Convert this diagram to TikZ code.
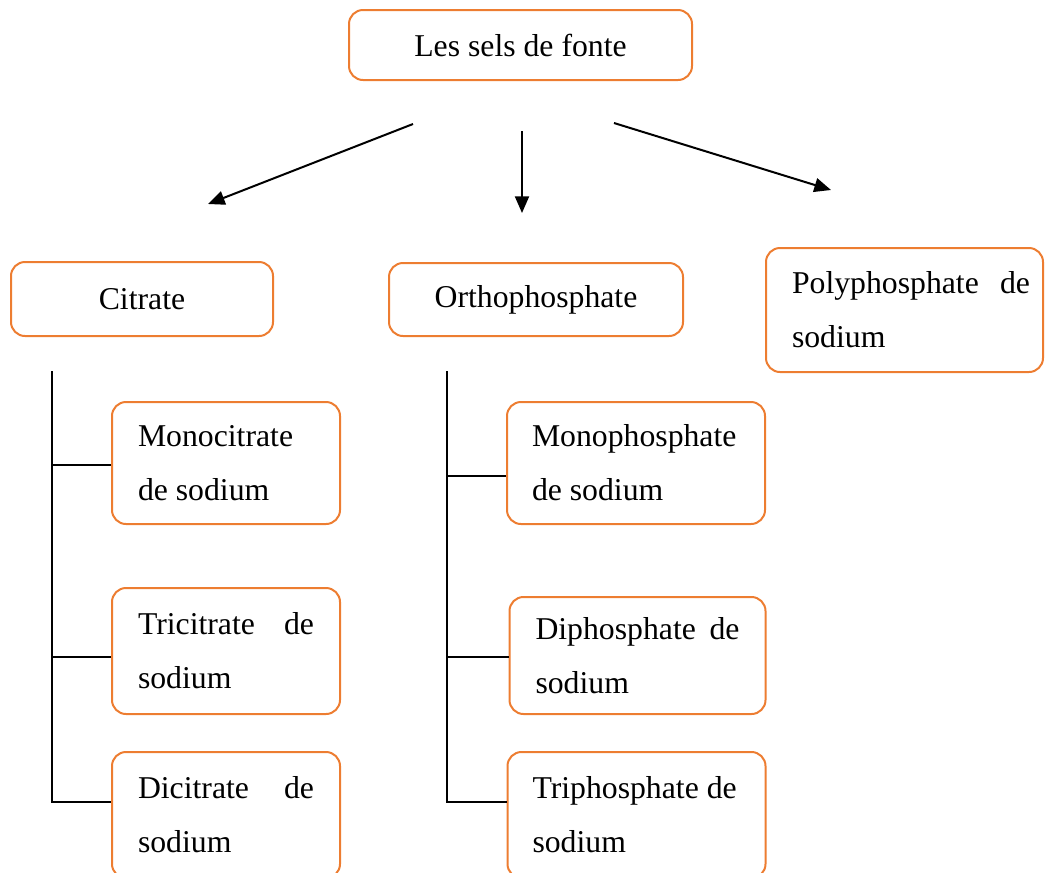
\documentclass[tikz,border=0pt]{standalone}
\usepackage{fontspec}
\setmainfont{Liberation Serif}
\usetikzlibrary{arrows.meta,calc,positioning}
\definecolor{saltorange}{RGB}{237,125,49}
\tikzset{
  saltbox/.style={draw=saltorange,line width=1.5pt,rounded corners=10.5pt,inner ysep=0pt,
    font=\fontsize{23.8pt}{40.5pt}\selectfont},
  onerow/.style={saltbox,align=center},
  tworow/.style={saltbox,align=justify,inner xsep=19.5pt,text width=#1},
  treeline/.style={line width=1.5pt},
  branch/.style={line width=1.5pt,-{Triangle[length=12.5pt,width=10.5pt]}}
}

\begin{document}
\begin{tikzpicture}[x=0.75pt,y=-0.75pt]
	\useasboundingbox (0,0) rectangle (1045,872);
	\node[onerow,minimum width=257.25pt,minimum height=52.5pt] (sels) at (520.5,45) {Les sels de fonte};
	\node[onerow,minimum width=196.5pt,minimum height=55.5pt] (citrate) at (142,299) {Citrate};
	\node[onerow,minimum width=220.5pt,minimum height=54.75pt] (ortho) at (536,299.5) {Orthophosphate};
	\node[tworow=168.75pt,minimum height=93pt] (poly) at (904.5,310) {Polyphosphate\hfill de\kern-9.75pt\\sodium};

	\node[tworow=132pt,minimum height=91.5pt] (monocit) at (226,463) {Monocitrate\\de sodium};
	\node[tworow=132pt,minimum height=94.5pt] (tricit) at (226,651) {Tricitrate\hfill de\\sodium};
	\node[tworow=132pt,minimum height=94.5pt] (dicit) at (226,815) {Dicitrate\hfill de\\sodium};

	\node[tworow=156pt,inner xsep=18.75pt,minimum height=91.5pt] (monophos) at (636,463) {Monophosphate\\de sodium};
	\node[tworow=153pt,minimum height=87.75pt] (diphos) at (637.5,655.5) {Diphosphate\hfill de\\sodium};
	\node[tworow=156pt,inner xsep=18.75pt,minimum height=94.5pt] (triphos) at (636.5,815) {Triphosphate de\\sodium};

	\coordinate (l1) at (413,124); \coordinate (l2) at (208,204);
	\coordinate (m1) at (522,131); \coordinate (m2) at (522,213);
	\coordinate (r1) at (614,123); \coordinate (r2) at (831,190);
	\draw[branch] (l1) -- (l2);
	\draw[branch] (m1) -- (m2);
	\draw[branch] (r1) -- (r2);

	\coordinate (ctop) at (52,371);
	\draw[treeline] (ctop) |- ($(dicit.west)+(0,-13)$);
	\draw[treeline] (ctop |- monocit.west) ++(0,2) -- ($(monocit.west)+(0,2)$);
	\draw[treeline] (ctop |- tricit.west) ++(0,6) -- ($(tricit.west)+(0,6)$);

	\coordinate (otop) at (447,371);
	\draw[treeline] (otop) |- ($(triphos.west)+(0,-13)$);
	\draw[treeline] (otop |- monophos.west) ++(0,13) -- ($(monophos.west)+(0,13)$);
	\draw[treeline] (otop |- diphos.west) ++(0,1.5) -- ($(diphos.west)+(0,1.5)$);
\end{tikzpicture}
\end{document}
